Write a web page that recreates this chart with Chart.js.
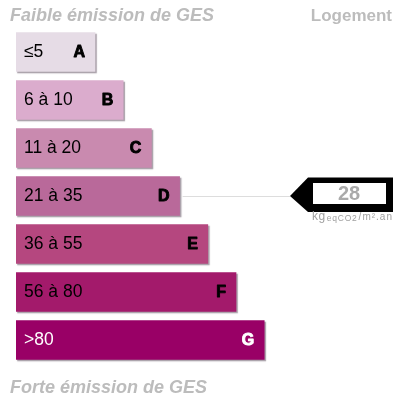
<!DOCTYPE html>
<html>
<head>
<meta charset="utf-8">
<script src="https://cdn.jsdelivr.net/npm/chart.js@4/dist/chart.umd.min.js"></script>
<style>
html,body{margin:0;padding:0;background:#fff;}
#wrap{width:400px;height:400px;}
</style>
</head>
<body>
<div id="wrap"><canvas id="c" width="400" height="400"></canvas></div>
<script>
const categories = ['A','B','C','D','E','F','G'];
const rangeLabels = ['\u22645','6 à 10','11 à 20','21 à 35','36 à 55','56 à 80','>80'];
const barLengths = [1,2,3,4,5,6,7];
const barColors = ['#e6dce6','#dbaccd','#c98aaf','#b9699a','#b5477f','#a31a6b','#990066'];
const labelColors = ['#000','#000','#000','#000','#000','#000','#fff'];
const currentValue = 28;
const currentClass = 'D';
const topLeftTitle = 'Faible émission de GES';
const topRightTitle = 'Logement';
const bottomTitle = 'Forte émission de GES';

const shadowPlugin = {
  id:'shadow',
  beforeDatasetsDraw(chart){
    const ctx = chart.ctx; ctx.save();
    ctx.shadowColor='rgba(60,40,60,0.45)';
    ctx.shadowOffsetX=1.5; ctx.shadowOffsetY=1.5; ctx.shadowBlur=1;
  },
  afterDatasetsDraw(chart){ chart.ctx.restore(); }
};

const labelPlugin = {
  id:'labels',
  afterDraw(chart){
    const ctx = chart.ctx;
    const meta = chart.getDatasetMeta(0);
    ctx.save();
    ctx.textBaseline='middle';
    meta.data.forEach((bar,i)=>{
      ctx.fillStyle = labelColors[i];
      ctx.font = '17.5px "Liberation Sans", Arial, sans-serif';
      ctx.textAlign='left';
      ctx.fillText(rangeLabels[i], bar.base + 8, bar.y);
      ctx.font = 'bold 16px "Liberation Sans", Arial, sans-serif';
      ctx.textAlign='right';
      ctx.strokeStyle = labelColors[i]; ctx.lineWidth = 0.9; ctx.lineJoin='round';
      ctx.fillText(categories[i], bar.x - 10, bar.y + 1);
      ctx.strokeText(categories[i], bar.x - 10, bar.y + 1);
    });
    // titles
    ctx.textBaseline='alphabetic';
    ctx.fillStyle='#bcbcbc';
    ctx.font='italic bold 18px "Liberation Sans", Arial, sans-serif';
    ctx.textAlign='left';
    ctx.fillText(topLeftTitle, 10, 21);
    ctx.fillText(bottomTitle, 10, 393);
    ctx.font='bold 17px "Liberation Sans", Arial, sans-serif';
    ctx.textAlign='right';
    ctx.fillText(topRightTitle, 392, 21);

    // pointer
    const idx = categories.indexOf(currentClass);
    const b = meta.data[idx];
    const y = b.y;
    const tipX = 290;
    ctx.strokeStyle='#dddddd'; ctx.lineWidth=1;
    ctx.beginPath(); ctx.moveTo(b.x + 3, y + 0.5); ctx.lineTo(tipX, y + 0.5); ctx.stroke();
    ctx.fillStyle='#000';
    ctx.beginPath();
    ctx.moveTo(tipX, y);
    ctx.lineTo(308, y - 18.5);
    ctx.lineTo(393, y - 18.5);
    ctx.lineTo(393, y + 16);
    ctx.lineTo(308, y + 16);
    ctx.closePath(); ctx.fill();
    ctx.fillStyle='#fff';
    ctx.fillRect(313, y - 13, 73, 21);
    ctx.fillStyle='#aaaaaa';
    ctx.font='bold 20px "Liberation Sans", Arial, sans-serif';
    ctx.textAlign='center'; ctx.textBaseline='middle';
    ctx.fillText(String(currentValue), 349, y - 2);
    // units
    ctx.fillStyle='#a0a0a0';
    ctx.textAlign='left'; ctx.textBaseline='alphabetic';
    let x = 312; const by = y + 24;
    ctx.letterSpacing='0.5px';
    ctx.font='12px "Liberation Sans", Arial, sans-serif';
    ctx.fillText('kg', x, by); x += ctx.measureText('kg').width + 1;
    ctx.letterSpacing='0.8px';
    ctx.font='8.5px "Liberation Sans", Arial, sans-serif';
    ctx.fillText('eqCO2', x, by + 1); x += ctx.measureText('eqCO2').width + 1;
    ctx.letterSpacing='1px';
    ctx.font='10px "Liberation Sans", Arial, sans-serif';
    ctx.fillText('/m\u00b2.an', x, by);
    ctx.restore();
  }
};

new Chart(document.getElementById('c'), {
  type:'bar',
  data:{
    labels:categories,
    datasets:[{
      data:barLengths,
      base:-1.8,
      backgroundColor:barColors,
      borderWidth:0,
      barThickness:39
    }]
  },
  options:{
    indexAxis:'y',
    responsive:false,
    devicePixelRatio:1,
    animation:false,
    layout:{padding:{left:16,right:8,top:28,bottom:36}},
    plugins:{legend:{display:false},tooltip:{enabled:false}},
    scales:{
      x:{display:false,min:-1.8,max:11.53},
      y:{display:false,offset:true,grid:{display:false}}
    }
  },
  plugins:[shadowPlugin,labelPlugin]
});
</script>
</body>
</html>
